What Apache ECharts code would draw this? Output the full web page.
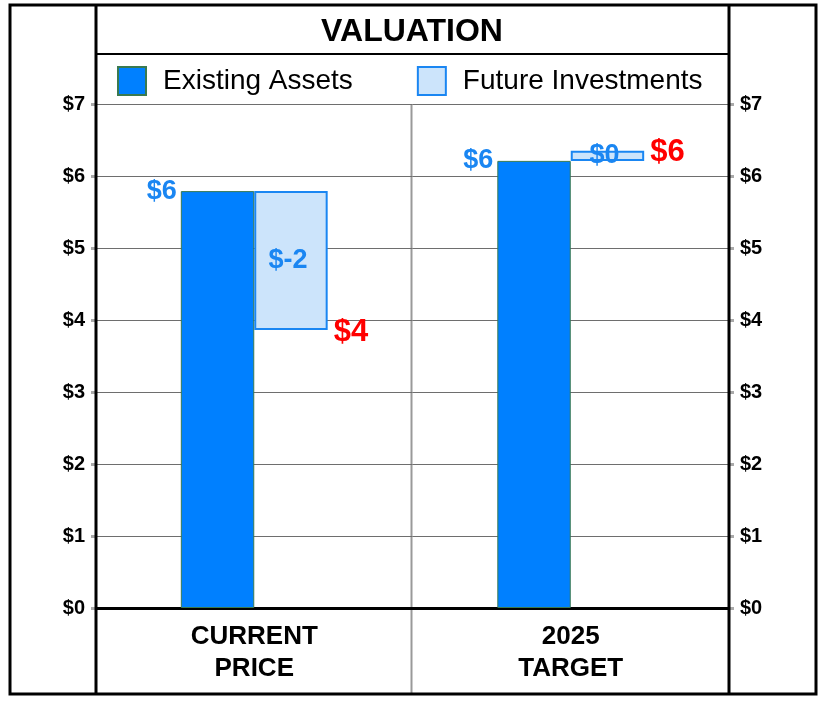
<!DOCTYPE html>
<html>
<head>
<meta charset="utf-8">
<script src="https://cdn.jsdelivr.net/npm/echarts@6/dist/echarts.min.js"></script>
<style>
html,body{margin:0;padding:0;background:#fff;}
#chart{width:824px;height:704px;}
</style>
</head>
<body>
<div id="chart"></div>
<script>
// ---- data ----
const categories = ['CURRENT\nPRICE', '2025\nTARGET'];
const existingAssets = [5.79, 6.21];
const futureInvestments = [-1.93, 0.14];
const totals = [3.86, 6.35];
const yTicks = [0, 1, 2, 3, 4, 5, 6, 7];

// tables the library needs
const floatBase = existingAssets.map((e, i) => Math.min(e, totals[i]));
const floatHeight = futureInvestments.map(f => Math.abs(f));
const totalData = totals.map((t, i) => [i, t]);

const BAR_FRAC = 0.232;
const FONT = '"Liberation Sans", Arial, Helvetica, sans-serif';
const BLUE_TXT = '#1a86f2';
const money = v => '$' + Math.round(v);

const chart = echarts.init(document.getElementById('chart'), null, {renderer: 'canvas'});

const option = {
  backgroundColor: '#ffffff',
  animation: false,
  textStyle: {fontFamily: FONT},
  title: {
    text: 'VALUATION',
    left: 'center',
    top: 11,
    textStyle: {fontFamily: FONT, fontSize: 32, fontWeight: 'bold', color: '#000'}
  },
  legend: {
    data: ['Existing Assets', 'Future Investments'],
    icon: 'rect',
    left: 112,
    top: 61,
    itemWidth: 28,
    itemHeight: 28,
    itemGap: 64,
    textStyle: {fontFamily: FONT, fontSize: 28, color: '#000', padding: [0, 0, 0, 12]}
  },
  grid: {left: 96, right: 95, top: 104, bottom: 96, containLabel: false},
  xAxis: {
    type: 'category',
    data: categories,
    axisLine: {show: true, lineStyle: {color: '#000', width: 3}},
    axisTick: {show: false},
    splitLine: {show: false},
    axisLabel: {
      fontFamily: FONT, fontSize: 26, fontWeight: 'bold', color: '#000',
      lineHeight: 32, margin: 13
    }
  },
  yAxis: [
    {
      type: 'value', min: 0, max: 7, interval: 1, position: 'left',
      axisLine: {show: false},
      axisTick: {show: true, length: 5, lineStyle: {color: '#aaa', width: 3}},
      splitLine: {show: true, lineStyle: {color: '#6e6e6e', width: 1}},
      axisLabel: {
        fontFamily: FONT, fontSize: 20, fontWeight: 'bold', color: '#000', margin: 11,
        formatter: v => yTicks.includes(v) ? '$' + v : ''
      }
    },
    {
      type: 'value', min: 0, max: 7, interval: 1, position: 'right',
      axisLine: {show: false},
      axisTick: {show: true, length: 5, lineStyle: {color: '#aaa', width: 3}},
      splitLine: {show: false},
      axisLabel: {
        fontFamily: FONT, fontSize: 20, fontWeight: 'bold', color: '#000', margin: 11,
        formatter: v => yTicks.includes(v) ? '$' + v : ''
      }
    }
  ],
  series: [
    {
      name: 'Existing Assets',
      type: 'bar',
      stack: 'existing',
      barWidth: (BAR_FRAC * 100) + '%',
      barGap: '0%',
      data: existingAssets,
      itemStyle: {color: '#0080ff', borderColor: '#3a7a50', borderWidth: 1},
      label: {
        show: true,
        position: [-4, 0],
        align: 'right',
        verticalAlign: 'middle',
        fontFamily: FONT, fontSize: 27, fontWeight: 'bold', color: BLUE_TXT,
        formatter: p => money(existingAssets[p.dataIndex])
      },
      z: 3
    },
    {
      name: 'base',
      type: 'bar',
      stack: 'future',
      barWidth: (BAR_FRAC * 100) + '%',
      barGap: '0%',
      data: floatBase,
      itemStyle: {color: 'rgba(0,0,0,0)'},
      emphasis: {disabled: true},
      silent: true,
      z: 2
    },
    {
      name: 'Future Investments',
      type: 'bar',
      stack: 'future',
      barWidth: (BAR_FRAC * 100) + '%',
      barGap: '0%',
      data: floatHeight,
      itemStyle: {color: '#cce4fb', borderColor: '#1a86f2', borderWidth: 2},
      label: {
        show: true,
        position: 'inside',
        offset: [-3, 0],
        fontFamily: FONT, fontSize: 27, fontWeight: 'bold', color: BLUE_TXT,
        formatter: p => money(futureInvestments[p.dataIndex])
      },
      z: 3
    },
    {
      name: 'total',
      type: 'custom',
      data: totalData,
      silent: true,
      z: 5,
      renderItem: function (params, api) {
        const pt = api.coord([api.value(0), api.value(1)]);
        const band = api.size([1, 0])[0];
        const bw = band * BAR_FRAC;
        return {
          type: 'text',
          style: {
            text: money(api.value(1)),
            x: pt[0] + bw + 6,
            y: pt[1] + 2,
            align: 'left',
            verticalAlign: 'middle',
            font: 'bold 31px ' + FONT,
            fill: '#ff0000'
          }
        };
      }
    }
  ],
  graphic: [
    {type: 'rect', shape: {x: 10, y: 5, width: 806, height: 689}, style: {fill: 'none', stroke: '#000', lineWidth: 3}, z: 100},
    {type: 'line', shape: {x1: 96, y1: 5, x2: 96, y2: 694}, style: {stroke: '#000', lineWidth: 3}, z: 100},
    {type: 'line', shape: {x1: 729, y1: 5, x2: 729, y2: 694}, style: {stroke: '#000', lineWidth: 3}, z: 100},
    {type: 'line', shape: {x1: 96, y1: 54, x2: 729, y2: 54}, style: {stroke: '#000', lineWidth: 2}, z: 100},
    {type: 'line', shape: {x1: 411.5, y1: 104, x2: 411.5, y2: 694}, style: {stroke: '#999', lineWidth: 2}, z: 0}
  ]
};

chart.setOption(option);
</script>
</body>
</html>
